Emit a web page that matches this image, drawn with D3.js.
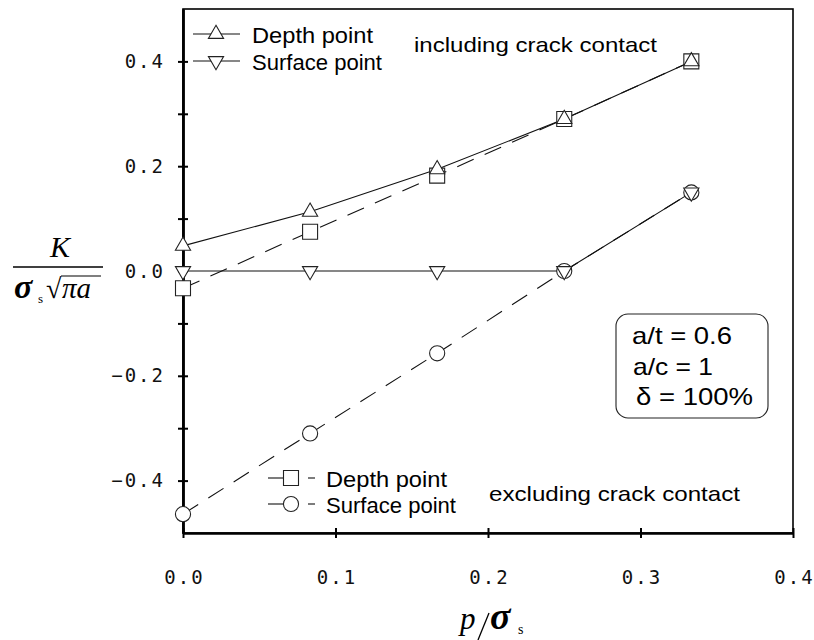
<!DOCTYPE html>
<html>
<head>
<meta charset="utf-8">
<script src="https://cdn.jsdelivr.net/npm/d3@7"></script>
<style>
  html, body { margin: 0; padding: 0; background: #fff; }
  svg { display: block; }
</style>
</head>
<body>
<svg id="chart" width="814" height="640"></svg>
<script>
// ---- data ----
const pRatio = [0, 1/12, 1/6, 1/4, 1/3];
const depthIncl = [0.048, 0.113, 0.194, 0.290, 0.400];
const surfIncl  = [0.000, 0.000, 0.000, 0.000, 0.150];
const depthExcl = [-0.033, 0.075, 0.182, 0.290, 0.400];
const surfExcl  = [-0.464, -0.310, -0.157, 0.000, 0.150];
const xTicks = [0, 0.1, 0.2, 0.3, 0.4];
const yMajorTicks = [-0.4, -0.2, 0, 0.2, 0.4];
const yMinorTicks = [-0.3, -0.1, 0.1, 0.3];
const legendIncl = ["Depth point", "Surface point"];
const legendExcl = ["Depth point", "Surface point"];
const infoLines = ["a/t = 0.6", "a/c = 1", "\u03B4 = 100%"];

// ---- layout ----
const svg = d3.select("#chart");
const L = 183, R = 793, T = 9, B = 533;
const x = d3.scaleLinear().domain([0, 0.4]).range([L, R]);
const y = d3.scaleLinear().domain([-0.5, 0.5]).range([B, T]);

const tickFont = "'DejaVu Sans Mono', monospace";
const textFont = "'Liberation Sans', Arial, sans-serif";
const serif = "'Liberation Serif', 'Times New Roman', serif";
const fmt = v => d3.format(".1f")(v);
const LS = 2;

// frame
svg.append("rect").attr("x", L).attr("y", T).attr("width", R - L).attr("height", B - T)
  .attr("fill", "none").attr("stroke", "#000").attr("stroke-width", 1.6);

// y axis
const yAxis = svg.append("g").attr("transform", `translate(${L},0)`)
  .call(d3.axisLeft(y).tickValues(yMajorTicks).tickFormat(fmt).tickSizeInner(5).tickSizeOuter(0).tickPadding(15));
const yMinor = svg.append("g").attr("transform", `translate(${L},0)`)
  .call(d3.axisLeft(y).tickValues(yMinorTicks).tickFormat("").tickSizeInner(5).tickSizeOuter(0));
[yAxis, yMinor].forEach(g => {
  g.select(".domain").attr("stroke-width", 2.4);
  g.selectAll(".tick line").attr("x1", 5).attr("stroke-width", 2);
});
yAxis.selectAll("text").attr("font-family", tickFont).attr("font-size", 19)
  .attr("letter-spacing", LS).attr("dx", LS).attr("fill", "#111");

// x axis
const xAxis = svg.append("g").attr("transform", `translate(0,${B})`)
  .call(d3.axisBottom(x).tickValues(xTicks).tickFormat(fmt).tickSizeInner(5).tickSizeOuter(0).tickPadding(33));
xAxis.select(".domain").attr("stroke-width", 2.4);
xAxis.selectAll(".tick line").attr("y1", -5).attr("stroke-width", 2);
xAxis.selectAll("text").attr("font-family", tickFont).attr("font-size", 19)
  .attr("letter-spacing", LS).attr("dx", LS / 2).attr("fill", "#111");

// ---- series ----
const series = [
  { vals: depthExcl, dash: "18,12", sym: "square" },
  { vals: surfExcl,  dash: "18,12", sym: "circle" },
  { vals: depthIncl, dash: null,    sym: "up" },
  { vals: surfIncl,  dash: null,    sym: "down" }
];
const line = d3.line().x(d => x(d[0])).y(d => y(d[1]));

function marker(g, type, cx, cy) {
  let path, rot = 0;
  if (type === "square") path = d3.symbol(d3.symbolSquare, 225)();
  else if (type === "circle") path = d3.symbol(d3.symbolCircle, 180)();
  else { path = d3.symbol(d3.symbolTriangle, 100)(); if (type === "down") rot = 180; }
  g.append("path").attr("d", path)
    .attr("transform", `translate(${cx},${cy}) rotate(${rot})`)
    .attr("fill", "#fff").attr("stroke", "#222").attr("stroke-width", 1.1);
}

const lineG = svg.append("g");
series.forEach(s => {
  const pts = pRatio.map((p, i) => [p, s.vals[i]]);
  lineG.append("path").attr("d", line(pts)).attr("fill", "none")
    .attr("stroke", "#111").attr("stroke-width", 1.1)
    .attr("stroke-dasharray", s.dash);
});
const markG = svg.append("g");
series.forEach(s => {
  pRatio.forEach((p, i) => marker(markG, s.sym, x(p), y(s.vals[i])));
});

function label(txt, lx, ly, size, len) {
  return svg.append("text").attr("x", lx).attr("y", ly).attr("dy", "0.35em")
    .attr("font-family", textFont).attr("font-size", size)
    .attr("textLength", len).attr("lengthAdjust", "spacingAndGlyphs").text(txt);
}

// ---- legends ----
const leg1 = svg.append("g");
const legLens = [121, 130];
[["up", 34], ["down", 61]].forEach(([sym, ly], i) => {
  leg1.append("line").attr("x1", 193).attr("x2", 240).attr("y1", ly).attr("y2", ly)
    .attr("stroke", "#111").attr("stroke-width", 1.1);
  marker(leg1, sym, 216, ly);
  label(legendIncl[i], 252, ly + 1, 22, legLens[i]);
});
label("including crack contact", 414, 45, 21, 243);

const leg2 = svg.append("g");
[["square", 478], ["circle", 504]].forEach(([sym, ly], i) => {
  leg2.append("line").attr("x1", 268).attr("x2", 291).attr("y1", ly).attr("y2", ly)
    .attr("stroke", "#111").attr("stroke-width", 1.1);
  leg2.append("line").attr("x1", 308).attr("x2", 315).attr("y1", ly).attr("y2", ly)
    .attr("stroke", "#111").attr("stroke-width", 1.1);
  marker(leg2, sym, 291, ly);
  label(legendExcl[i], 326, ly + 1, 22, legLens[i]);
});
label("excluding crack contact", 489, 494, 21, 251);

// info box
svg.append("rect").attr("x", 616).attr("y", 314).attr("width", 152).attr("height", 104)
  .attr("rx", 12).attr("ry", 12).attr("fill", "#fff").attr("stroke", "#222").attr("stroke-width", 1.1);
const infoX = [632, 633, 636], infoY = [336, 367, 397], infoLen = [100, 80, 117];
infoLines.forEach((t, i) => label(t, infoX[i], infoY[i], 24, infoLen[i]));

// y-axis label: K / (σs √(πa))
const yl = svg.append("g").attr("font-family", serif).attr("fill", "#000");
yl.append("text").attr("x", 60).attr("y", 257).attr("text-anchor", "middle")
  .attr("font-style", "italic").attr("font-size", 30).text("K");
yl.append("line").attr("x1", 13).attr("x2", 103).attr("y1", 267).attr("y2", 267)
  .attr("stroke", "#000").attr("stroke-width", 1.3);
yl.append("text").attr("x", 14).attr("y", 298).attr("font-weight", "bold")
  .attr("font-style", "italic").attr("font-size", 34).text("\u03C3");
yl.append("text").attr("x", 38).attr("y", 303).attr("font-size", 13).text("s");
yl.append("text").attr("x", 46).attr("y", 298).attr("font-size", 28).text("\u221A");
yl.append("line").attr("x1", 61).attr("x2", 101).attr("y1", 276).attr("y2", 276)
  .attr("stroke", "#000").attr("stroke-width", 1.2);
yl.append("text").attr("x", 62).attr("y", 298).attr("font-style", "italic")
  .attr("font-size", 29).text("\u03C0a");

// x-axis label: p/σs
const xl = svg.append("g").attr("font-family", serif).attr("fill", "#000");
xl.append("text").attr("x", 460).attr("y", 629).attr("font-style", "italic")
  .attr("font-size", 31).text("p");
xl.append("line").attr("x1", 489).attr("x2", 478).attr("y1", 613).attr("y2", 640)
  .attr("stroke", "#000").attr("stroke-width", 1.3);
xl.append("text").attr("x", 490).attr("y", 629).attr("font-weight", "bold")
  .attr("font-style", "italic").attr("font-size", 38).text("\u03C3");
xl.append("text").attr("x", 518).attr("y", 634).attr("font-size", 14).text("s");
</script>
</body>
</html>
